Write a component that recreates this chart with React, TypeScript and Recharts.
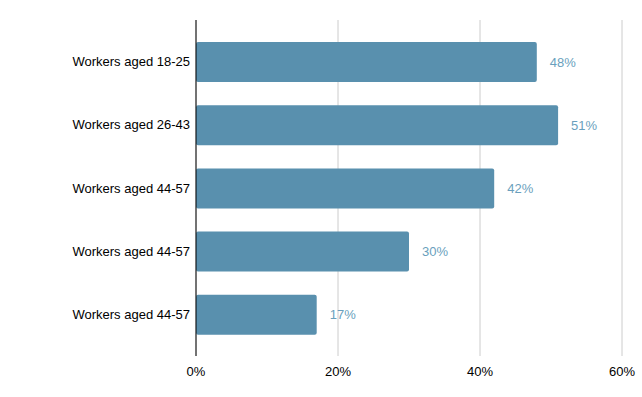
import { BarChart, Bar, XAxis, YAxis, CartesianGrid, LabelList } from "recharts";

const categories = [
  "Workers aged 18-25",
  "Workers aged 26-43",
  "Workers aged 44-57",
  "Workers aged 44-57",
  "Workers aged 44-57",
];
const shares = [48, 51, 42, 30, 17];
const xTicks = [0, 20, 40, 60];

const data = categories.map((name, i) => ({ key: `c${i}`, name, value: shares[i] }));

const BAR_COLOR = "#5990ae";
const FONT = "'Liberation Sans', Arial, sans-serif";

export default function App() {
  return (
    <div style={{ position: "absolute", left: 0, top: 0, background: "#fff" }}>
      <BarChart
        width={642}
        height={397}
        data={data}
        layout="vertical"
        margin={{ top: 20, right: 20, bottom: 11, left: 0 }}
        style={{ fontFamily: FONT }}
      >
        <CartesianGrid horizontal={false} stroke="#cccccc" strokeWidth={1} />
        <XAxis
          type="number"
          domain={[0, 60]}
          ticks={xTicks}
          tickFormatter={(v) => `${v}%`}
          axisLine={false}
          tickLine={false}
          tick={{ fill: "#000", fontSize: 13 }}
          tickMargin={5}
          height={30}
        />
        <YAxis
          type="category"
          dataKey="key"
          tickFormatter={(_v, i) => categories[i]}
          width={196}
          axisLine={{ stroke: "#000" }}
          tickLine={false}
          tick={{ fill: "#000", fontSize: 13 }}
          tickMargin={0}
          padding={{ top: 10, bottom: 10 }}
        />
        <Bar dataKey="value" fill={BAR_COLOR} barSize={40} radius={2} isAnimationActive={false}>
          <LabelList
            dataKey="value"
            position="right"
            offset={13}
            formatter={(v: number) => `${v}%`}
            style={{ fill: "#6a9fbd", fontSize: 13 }}
          />
        </Bar>
      </BarChart>
    </div>
  );
}
